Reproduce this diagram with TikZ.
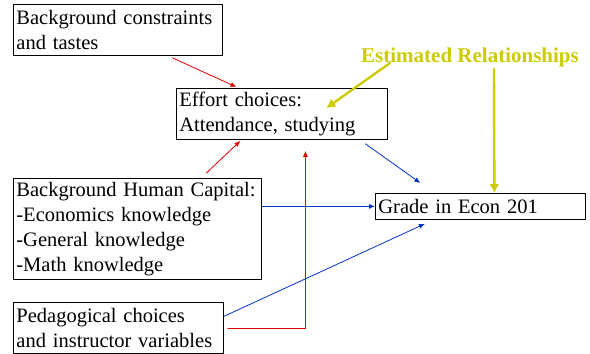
\documentclass[tikz,border=0pt]{standalone}
\usepackage{fontspec}
\setmainfont{Liberation Serif}
\usetikzlibrary{arrows.meta}
\definecolor{linkred}{RGB}{221,0,0}
\definecolor{linkblue}{RGB}{0,51,204}
\definecolor{estyellow}{RGB}{204,204,0}
\hyphenpenalty=10000
\begin{document}
\begin{tikzpicture}[x=1pt,y=-1pt,line cap=round,line join=round,
  box/.style={draw,line width=.8pt,anchor=north west,inner xsep=3pt,inner ysep=0pt,
    align=left,font=\fontsize{20.5}{25}\selectfont},
  redlink/.style={draw=linkred,line width=.8pt,-{Latex[length=6pt,width=5pt]}},
  bluelink/.style={draw=linkblue,line width=.8pt,-{Latex[length=6pt,width=5pt]}},
  estlink/.style={draw=estyellow,line width=2.4pt,-{Latex[length=9pt,width=10pt]}}]
\useasboundingbox (0,0) rectangle (590,354);
\node[box,text width=203pt,minimum height=51pt] (tastes) at (13,4)
  {Background constraints\\and tastes};
\node[box,text width=205pt,minimum height=51pt] (effort) at (176,88)
  {Effort choices:\\Attendance, studying};
\node[box,text width=242pt,minimum height=101pt] (capital) at (13,178)
  {Background Human Capital:\\-Economics knowledge\\-General knowledge\\-Math knowledge};
\node[box,text width=204pt,minimum height=51pt] (pedagogy) at (13,302)
  {Pedagogical choices\\and instructor variables};
\node[box,text width=204pt,minimum height=26pt] (grade) at (375,193)
  {Grade in Econ 201};
\node[font=\fontsize{21}{25}\selectfont\bfseries,text=estyellow,inner sep=0pt,anchor=base]
  (est) at (470,62) {Estimated Relationships};
\draw[redlink] ([xshift=54.5pt,yshift=-2pt]tastes.south) -- ([xshift=-45.5pt,yshift=1pt]effort.north);
\draw[redlink] ([xshift=69pt,yshift=5pt]capital.north) -- ([xshift=-41.5pt,yshift=-1pt]effort.south);
\draw[redlink] ([xshift=4pt]pedagogy.east) -| ([xshift=23.5pt,yshift=-11pt]effort.south);
\draw[bluelink] ([xshift=83.5pt,yshift=-4pt]effort.south) -- ([xshift=-60pt,yshift=10pt]grade.north);
\draw[bluelink] (capital.east |- grade.west) -- (grade.west);
\draw[bluelink] ([yshift=11.5pt]pedagogy.east) -- ([xshift=-55.5pt,yshift=-4pt]grade.south);
\draw[estlink] ([xshift=-80pt,yshift=-1pt]est.base) -- ([xshift=44.5pt,yshift=-20pt]effort.north);
\draw[estlink] ([xshift=24pt,yshift=-7pt]est.base) -- ([xshift=14pt]grade.north);
\end{tikzpicture}
\end{document}
